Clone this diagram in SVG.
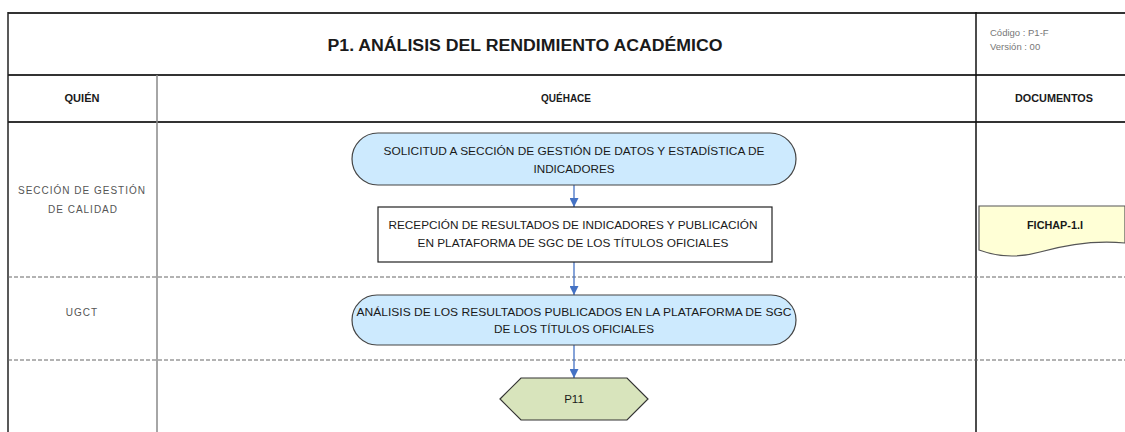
<svg xmlns="http://www.w3.org/2000/svg" width="1125" height="432" viewBox="0 0 1125 432">
<style>
.t{font-family:"Liberation Sans",Arial,sans-serif;fill:#1a1a1a;text-anchor:middle}
.h{font-size:10px;font-weight:bold}
.n{font-size:11px}
.l{font-size:10px;fill:#555;letter-spacing:1px}
.g{font-size:9.5px;fill:#777;text-anchor:start}
.frame{stroke:#333;stroke-width:2;fill:none}
.dash{stroke:#666;stroke-width:1;stroke-dasharray:4 2;fill:none}
.term{fill:#cdeafe;stroke:#444;stroke-width:1.2}
.box{fill:#fff;stroke:#222;stroke-width:1.2}
.conn{stroke:#4472c4;stroke-width:1.3;fill:none;marker-end:url(#ah)}
</style>
<defs>
<marker id="ah" viewBox="0 0 10 10" refX="10" refY="5" markerWidth="9" markerHeight="9" markerUnits="userSpaceOnUse" orient="auto">
<path d="M0,0 L10,5 L0,10 Z" fill="#4472c4"/>
</marker>
</defs>
<rect width="1125" height="432" fill="#fff"/>
<g id="table">
<line x1="8" y1="13" x2="1125" y2="13" class="frame"/>
<line x1="8" y1="75" x2="1125" y2="75" class="frame"/>
<line x1="8" y1="122" x2="1125" y2="122" class="frame"/>
<line x1="8" y1="12" x2="8" y2="432" stroke="#222" stroke-width="1.5"/>
<line x1="157" y1="75" x2="157" y2="432" stroke="#888" stroke-width="1.5"/>
<line x1="976" y1="12" x2="976" y2="432" stroke="#111" stroke-width="1.5"/>
<line x1="8" y1="277" x2="1125" y2="277" class="dash"/>
<line x1="8" y1="360" x2="1125" y2="360" class="dash"/>
<text x="525" y="51" class="t" font-size="16" font-weight="bold" textLength="395" lengthAdjust="spacingAndGlyphs">P1. ANÁLISIS DEL RENDIMIENTO ACADÉMICO</text>
<text x="990" y="36" class="t g">Código : P1-F</text>
<text x="990" y="50" class="t g">Versión : 00</text>
<text x="82" y="102" class="t h" textLength="35" lengthAdjust="spacingAndGlyphs">QUIÉN</text>
<text x="566" y="102" class="t h">QUÉHACE</text>
<text x="1054" y="102" class="t h" textLength="78" lengthAdjust="spacingAndGlyphs">DOCUMENTOS</text>
<text x="82" y="194" class="t l" textLength="128">SECCIÓN DE GESTIÓN</text>
<text x="83" y="213" class="t l">DE CALIDAD</text>
<text x="82" y="316" class="t l">UGCT</text>
</g>
<g id="connectors">
<line x1="574" y1="185" x2="574" y2="207" class="conn"/>
<line x1="574" y1="262" x2="574" y2="295" class="conn"/>
<line x1="574" y1="345" x2="574" y2="378" class="conn"/>
</g>
<g id="n1">
<rect x="352" y="133" width="444" height="52" rx="26" class="term"/>
<text x="574" y="155" class="t n" textLength="381" lengthAdjust="spacingAndGlyphs">SOLICITUD A SECCIÓN DE GESTIÓN DE DATOS Y ESTADÍSTICA DE</text>
<text x="574" y="173" class="t n" textLength="81" lengthAdjust="spacingAndGlyphs">INDICADORES</text>
</g>
<g id="n2">
<rect x="378" y="207" width="394" height="55" class="box"/>
<text x="573" y="229" class="t n" textLength="369" lengthAdjust="spacingAndGlyphs">RECEPCIÓN DE RESULTADOS DE INDICADORES Y PUBLICACIÓN</text>
<text x="573" y="247" class="t n" textLength="311" lengthAdjust="spacingAndGlyphs">EN PLATAFORMA DE SGC DE LOS TÍTULOS OFICIALES</text>
</g>
<g id="n3">
<rect x="352" y="295" width="444" height="50" rx="25" class="term"/>
<text x="574" y="316" class="t n" textLength="435" lengthAdjust="spacingAndGlyphs">ANÁLISIS DE LOS RESULTADOS PUBLICADOS EN LA PLATAFORMA DE SGC</text>
<text x="574" y="333" class="t n" textLength="160" lengthAdjust="spacingAndGlyphs">DE LOS TÍTULOS OFICIALES</text>
</g>
<g id="n4">
<polygon points="500,399 521,378 627,378 648,399 627,420 521,420" fill="#d8e4bc" stroke="#333" stroke-width="1.2"/>
<text x="574" y="403" class="t" font-size="11.5">P11</text>
</g>
<g id="doc">
<path d="M979,206 H1125 V243 C1095,240 1065,245 1040,252 C1015,259 995,256 979,250 Z" fill="#ffffd6" stroke="#555" stroke-width="1.2"/>
<text x="1055" y="229" class="t" font-size="10" font-weight="bold" textLength="56" lengthAdjust="spacingAndGlyphs">FICHAP-1.I</text>
</g>
</svg>
